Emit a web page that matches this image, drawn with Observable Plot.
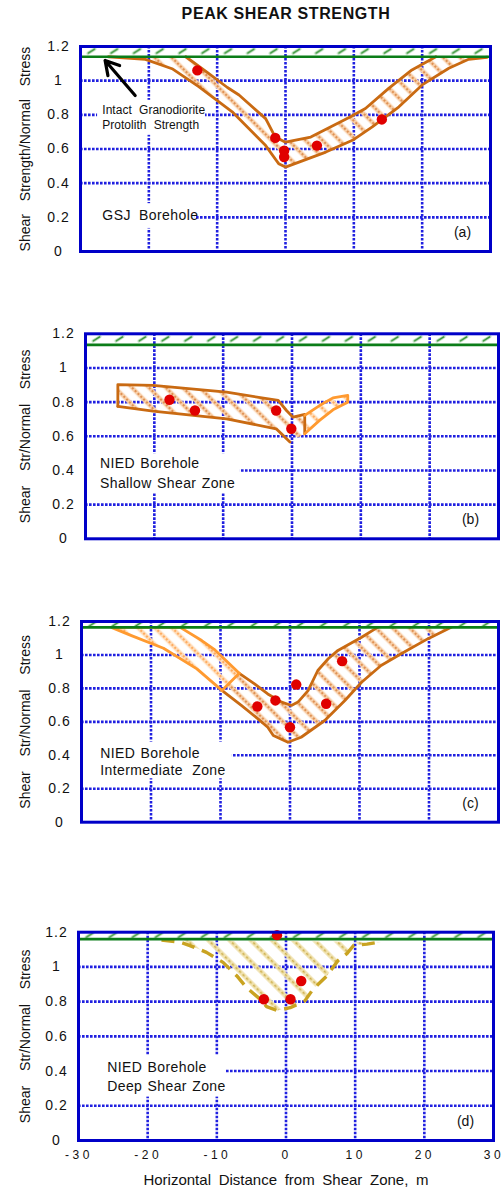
<!DOCTYPE html>
<html>
<head>
<meta charset="utf-8">
<script src="https://cdn.jsdelivr.net/npm/d3@7"></script>
<script src="https://cdn.jsdelivr.net/npm/@observablehq/plot@0.6"></script>
<style>
  html, body { margin: 0; padding: 0; background: #fff; }
  #root { position: relative; width: 504px; height: 1188px; overflow: hidden;
          font-family: "Liberation Sans", Arial, Helvetica, sans-serif; }
  #title { position: absolute; left: 286px; top: 14px; transform: translate(-50%, -50%);
           white-space: nowrap; font-weight: bold; font-size: 16px; letter-spacing: 0.6px; color: #111; }
  #root svg { position: absolute; left: 0; }
</style>
</head>
<body>
<div id="root"><div id="title">PEAK SHEAR STRENGTH</div></div>
<script>
// ---------------- data ----------------
const xTicks = [-30, -20, -10, 0, 10, 20, 30];
const yTicks = [0, 0.2, 0.4, 0.6, 0.8, 1, 1.2];
const xGrid = [-20, -10, 0, 10, 20];
const yGrid = [0.2, 0.4, 0.6, 0.8, 1];

const protolithA = 1.14, protolithB = 1.135, protolithC = 1.165, protolithD = 1.16;

// (a) GSJ borehole
const gsjInner = [[-14.6,1.14],[-11.5,1.05],[-8.5,0.96],[-6.8,0.916],[-2.9,0.778],[-1.5,0.67],[0,0.64],[3.7,0.67],[9.3,0.784],[11.7,0.837],[15.1,0.955],[18.5,1.063],[22.0,1.14]];
const gsjOuter = [[-25.9,1.14],[-20.5,1.125],[-16.6,1.07],[-12.7,0.965],[-7.8,0.818],[-2.9,0.62],[-1.0,0.514],[0,0.494],[5.9,0.582],[9.8,0.651],[12.7,0.729],[16.6,0.847],[20.0,0.975],[23.9,1.073],[26.8,1.125],[29.5,1.137]];
const gsjDots = [[-12.9,1.06],[-1.5,0.665],[-0.2,0.59],[-0.2,0.553],[4.6,0.62],[14.1,0.773]];
const gsjArrow = [[-22.0,0.913],[-26.4,1.118]];

// (b) NIED shallow shear zone
const shallowUpper = [[-25.3,0.775],[-25.3,0.903],[-20.2,0.898],[-9.5,0.858],[-2.0,0.81],[-0.8,0.751],[0.15,0.712],[1.85,0.728],[1.85,0.615]];
const shallowLower = [[-25.3,0.775],[-20.2,0.747],[-9.5,0.702],[-2.3,0.644],[-0.3,0.566]];
const shallowWing = [[1.85,0.722],[4.0,0.78],[5.95,0.825],[8.1,0.839],[8.1,0.80],[5.95,0.755],[4.0,0.693],[1.85,0.615]];
const shallowDots = [[-17.8,0.814],[-14.1,0.751],[-2.3,0.751],[-0.1,0.644]];

// (c) NIED intermediate zone
const interLightOuter = [[-25.7,1.165],[-22.9,1.117],[-18.2,1.04],[-13.4,0.917],[-9.8,0.788]];
const interLightInner = [[-25.7,1.165],[-15.8,1.165],[-12.7,1.086],[-10.8,1.03],[-7.3,0.89]];
const interInner = [[-7.3,0.89],[-5.1,0.827],[-3.2,0.767],[-1.2,0.718],[0.2,0.698],[1.15,0.718],[2.6,0.787],[4.0,0.907],[5.5,0.977],[6.9,1.027],[10.3,1.106],[12.6,1.165]];
const interOuter = [[-9.8,0.788],[-7.0,0.698],[-4.6,0.618],[-3.2,0.568],[-2.4,0.518],[-0.3,0.478],[1.6,0.508],[5.0,0.608],[7.9,0.728],[10.3,0.837],[13.1,0.937],[16.0,1.007],[19.8,1.096],[23.2,1.165]];
const interDots = [[-4.7,0.692],[-2.1,0.728],[0.9,0.823],[0,0.568],[5.2,0.708],[7.5,0.963]];

// (d) NIED deep shear zone
const deepOutline = [[-18,1.155],[-15.3,1.143],[-13.9,1.123],[-11.5,1.084],[-9.1,1.026],[-7.1,0.948],[-5.7,0.881],[-4.0,0.823],[-2.8,0.771],[-1.3,0.749],[0.6,0.765],[2.7,0.803],[3.9,0.871],[5.9,0.948],[7.5,1.036],[8.8,1.077],[9.8,1.125],[11.7,1.131],[13.7,1.144]];
const deepDots = [[-1.3,1.183],[2.2,0.919],[-3.2,0.814],[0.65,0.814]];

const tags = ["(a)", "(b)", "(c)", "(d)"];
const yLabels = ["Shear Strength/Normal Stress", "Shear Str/Normal Stress"];
const xLabel = "Horizontal Distance from Shear Zone, m";

// ---------------- style ----------------
const FONT = '"Liberation Sans", Arial, Helvetica, sans-serif';
const BLUE = "#0000c8", GRID = "#2020e0", GREEN = "#0b7d18", DARK = "#c96a12",
      LIGHT = "#ff9a30", RED = "#e00000", GOLD = "#c9a321";

const px = d => d[0], py = d => d[1];

function stripe(defs, pid, s, wide, core, dash) {
  const p = defs.append("pattern").attr("id", pid).attr("patternUnits", "userSpaceOnUse")
    .attr("width", s).attr("height", s).attr("patternTransform", "rotate(-45)");
  p.append("line").attr("x1", s / 2).attr("x2", s / 2).attr("y1", 0).attr("y2", s)
    .attr("stroke", wide).attr("stroke-width", 4.5);
  p.append("line").attr("x1", s / 2).attr("x2", s / 2).attr("y1", 0).attr("y2", s)
    .attr("stroke", core).attr("stroke-width", 1.6).attr("stroke-dasharray", dash);
}

// widen the gaps between words with tspans (text stays real text)
function spaceWords(svgSel, content, extra) {
  svgSel.selectAll("text").filter(function () { return this.textContent === content; }).each(function () {
    const words = content.split(" ");
    const t = d3.select(this);
    t.text(null);
    words.forEach((w, i) => {
      const ts = t.append("tspan").text((i ? " " : "") + w);
      if (i) ts.attr("dx", extra);
    });
  });
}

function panel(o) {
  const {id, top, height, mt, mb, ml, mr, protolith} = o;
  const X = v => ml + (v - xTicks[0]) / (xTicks[xTicks.length - 1] - xTicks[0]) * (504 - ml - mr);
  const Y = v => mt + (yTicks[yTicks.length - 1] - v) / (yTicks[yTicks.length - 1] - yTicks[0]) * (height - mt - mb);

  const marks = [
    Plot.rect([protolith], {x1: () => xTicks[0], x2: () => xTicks[xTicks.length - 1],
      y1: d => d, y2: () => yTicks[yTicks.length - 1], fill: `url(#${id}-green)`}),
    Plot.gridX(xGrid, {stroke: GRID, strokeOpacity: 1, strokeWidth: 2.6, strokeDasharray: "2.6 1.4"}),
    Plot.gridY(yGrid, {stroke: GRID, strokeOpacity: 1, strokeWidth: 2.6, strokeDasharray: "2.6 1.4"}),
    Plot.rect(o.boxes, {x1: d => d[0][0], y1: d => d[0][1], x2: d => d[1][0], y2: d => d[1][1], fill: "white"}),
  ];
  for (const b of o.bands) {
    marks.push(Plot.line(b.poly, {x: px, y: py, curve: "linear-closed", fill: `url(#${id}-${b.pattern})`, stroke: "none"}));
  }
  for (const b of o.bands) {
    for (const l of b.lines) {
      marks.push(Plot.line(l.pts, {x: px, y: py, stroke: l.stroke, strokeWidth: l.w || 2.8,
        strokeDasharray: l.dash, strokeLinejoin: "round", strokeLinecap: l.dash ? "butt" : "round"}));
    }
  }
  marks.push(
    Plot.ruleY([protolith], {stroke: GREEN, strokeWidth: 2.6}),
    Plot.dot(o.dots, {x: px, y: py, r: 5.2, fill: RED, stroke: "none"}),
    ...(o.extra || []),
    Plot.frame({stroke: BLUE, strokeWidth: 3}),
    Plot.axisY(yTicks, {tickSize: 0, tickPadding: 22, textAnchor: "middle", fontSize: 14,
      tickFormat: d => String(d), fill: "#111", label: null}),
    Plot.text([o.yLabel], {frameAnchor: "left", dx: 25 - ml, rotate: -90, fontSize: 14,
      textAnchor: "middle", lineAnchor: "middle", fill: "#111"}),
    Plot.text([o.tag], {frameAnchor: "bottom-right", dx: -28, dy: -19, fontSize: 14,
      textAnchor: "middle", lineAnchor: "middle", fill: "#111"}),
    Plot.text(o.notes, {x: d => d.x, y: d => d.y, text: d => d.text, textAnchor: "start",
      fontSize: o.noteSize, fill: "#111"})
  );
  if (o.smallNotes) marks.push(Plot.text(o.smallNotes, {x: d => d.x, y: d => d.y, text: d => d.text,
      textAnchor: "start", fontSize: 12, fill: "#111"}));
  if (o.xAxis) {
    marks.push(
      Plot.axisX(xTicks, {tickSize: 0, tickPadding: 10, fontSize: 12, dx: 0.5,
        tickFormat: d => String(d), fill: "#111", label: null}),
      Plot.text([xLabel], {frameAnchor: "bottom", dy: 40, fontSize: 15, lineAnchor: "middle",
        textAnchor: "middle", fill: "#111"})
    );
  }

  const svg = Plot.plot({
    width: 504, height,
    marginTop: mt, marginBottom: mb, marginLeft: ml, marginRight: mr,
    x: {domain: [xTicks[0], xTicks[xTicks.length - 1]], axis: o.xAxis ? undefined : null},
    y: {domain: [yTicks[0], yTicks[yTicks.length - 1]]},
    style: {fontFamily: FONT, color: "#111", background: "transparent", overflow: "visible"},
    marks
  });
  svg.style.top = top + "px";

  const defs = d3.select(svg).insert("defs", ":first-child");
  const y0 = Y(yTicks[yTicks.length - 1]), y1 = Y(protolith);
  const x0 = X(xTicks[0]), step = (X(xTicks[1]) - x0) / 3, h = y1 - y0;
  const g = defs.append("pattern").attr("id", `${id}-green`).attr("patternUnits", "userSpaceOnUse")
    .attr("x", x0).attr("y", y0).attr("width", step).attr("height", h);
  g.append("line").attr("x1", step * 0.5 - 3.5).attr("y1", h / 2 + 2.2)
    .attr("x2", step * 0.5 + 3.5).attr("y2", h / 2 - 2.2)
    .attr("stroke", "#b8dcb8").attr("stroke-width", 3).attr("stroke-linecap", "round");
  g.append("line").attr("x1", step * 0.5 - 3.5).attr("y1", h / 2 + 2.2)
    .attr("x2", step * 0.5 + 3.5).attr("y2", h / 2 - 2.2)
    .attr("stroke", "#2f8f2f").attr("stroke-width", 1.3);
  stripe(defs, `${id}-dark`, 12, "#f7cfa9", "#d9823f", "2 2");
  stripe(defs, `${id}-light`, 12, "#ffdcb8", "#ffa04a", "2 2");
  stripe(defs, `${id}-gold`, 15, "#f0e2ae", "#cdae4c", "2.5 2.5");

  const s = d3.select(svg);
  s.selectAll('g[aria-label="y-axis tick label"] text').style("letter-spacing", "1px");
  s.selectAll('g[aria-label="x-axis tick label"] text').style("letter-spacing", "3.5px");
  spaceWords(s, o.yLabel, o.ylabelWS);
  for (const n of o.notes) spaceWords(s, n.text, n.ws != null ? n.ws : o.noteWS);
  for (const n of (o.smallNotes || [])) spaceWords(s, n.text, 4);
  if (o.xAxis) spaceWords(s, xLabel, 3.5);
  s.selectAll("text").filter(function () {
    return o.notes.some(n => n.text === this.textContent);
  }).style("letter-spacing", "0.4px");
  document.getElementById("root").appendChild(svg);
}

// ---------------- panels ----------------
panel({
  id: "pa", top: 30, height: 240, mt: 16, mb: 19, ml: 80, mr: 14, protolith: protolithA,
  yLabel: yLabels[0], ylabelWS: 9, tag: tags[0],
  boxes: [[[-27.5, 0.68], [-11.7, 0.885]], [[-30, 0.135], [-13.2, 0.28]]],
  bands: [{poly: gsjOuter.concat(gsjInner.slice().reverse()), pattern: "dark",
           lines: [{pts: gsjInner, stroke: DARK}, {pts: gsjOuter, stroke: DARK}]}],
  dots: gsjDots,
  extra: [Plot.arrow([gsjArrow], {x1: d => d[0][0], y1: d => d[0][1], x2: d => d[1][0], y2: d => d[1][1],
    stroke: "black", strokeWidth: 3.2, headLength: 12})],
  notes: [{x: -26.8, y: 0.211, text: "GSJ Borehole"}], noteSize: 14, noteWS: 4,
  smallNotes: [{x: -26.8, y: 0.826, text: "Intact Granodiorite"}, {x: -26.8, y: 0.738, text: "Protolith Strength"}]
});

panel({
  id: "pb", top: 315, height: 240, mt: 18.3, mb: 16.7, ml: 85, mr: 6, protolith: protolithB,
  yLabel: yLabels[1], ylabelWS: 11, tag: tags[1],
  boxes: [[[-30, 0.263], [-7.5, 0.498]]],
  bands: [
    {poly: shallowUpper.slice(1).concat(shallowLower.slice().reverse()), pattern: "dark",
     lines: [{pts: shallowUpper, stroke: DARK}, {pts: shallowLower, stroke: DARK}]},
    {poly: shallowWing, pattern: "light", lines: [{pts: shallowWing.slice(), stroke: LIGHT}]}
  ],
  dots: shallowDots,
  notes: [{x: -27.9, y: 0.439, text: "NIED Borehole"}, {x: -27.9, y: 0.326, text: "Shallow Shear Zone"}],
  noteSize: 14, noteWS: 1
});

panel({
  id: "pc", top: 600, height: 240, mt: 21, mb: 18.3, ml: 81, mr: 6, protolith: protolithC,
  yLabel: yLabels[1], ylabelWS: 11, tag: tags[2],
  boxes: [[[-30, 0.26], [-8.3, 0.479]]],
  bands: [
    {poly: interOuter.concat(interInner.slice().reverse()), pattern: "dark",
     lines: [{pts: interInner, stroke: DARK}, {pts: interOuter, stroke: DARK}]},
    {poly: interLightOuter.concat(interLightInner.slice().reverse()), pattern: "light",
     lines: [{pts: interLightOuter.slice().reverse().concat(interLightInner), stroke: LIGHT},
             {pts: [interLightOuter[interLightOuter.length - 1], interLightInner[interLightInner.length - 1]], stroke: LIGHT}]}
  ],
  dots: interDots,
  notes: [{x: -27.3, y: 0.409, text: "NIED Borehole", ws: 1}, {x: -27.3, y: 0.309, text: "Intermediate Zone", ws: 5}],
  noteSize: 14, noteWS: 1
});

panel({
  id: "pd", top: 912, height: 276, mt: 19.7, mb: 48, ml: 78, mr: 11, protolith: protolithD,
  yLabel: yLabels[1], ylabelWS: 11, tag: tags[3],
  boxes: [[[-30, 0.25], [-8.7, 0.49]]],
  bands: [{poly: deepOutline, pattern: "gold",
           lines: [{pts: deepOutline, stroke: GOLD, w: 3.4, dash: "13 8"}]}],
  dots: deepDots,
  notes: [{x: -25.85, y: 0.422, text: "NIED Borehole"}, {x: -25.85, y: 0.313, text: "Deep Shear Zone"}],
  noteSize: 14, noteWS: 1,
  xAxis: true
});
</script>
</body>
</html>
